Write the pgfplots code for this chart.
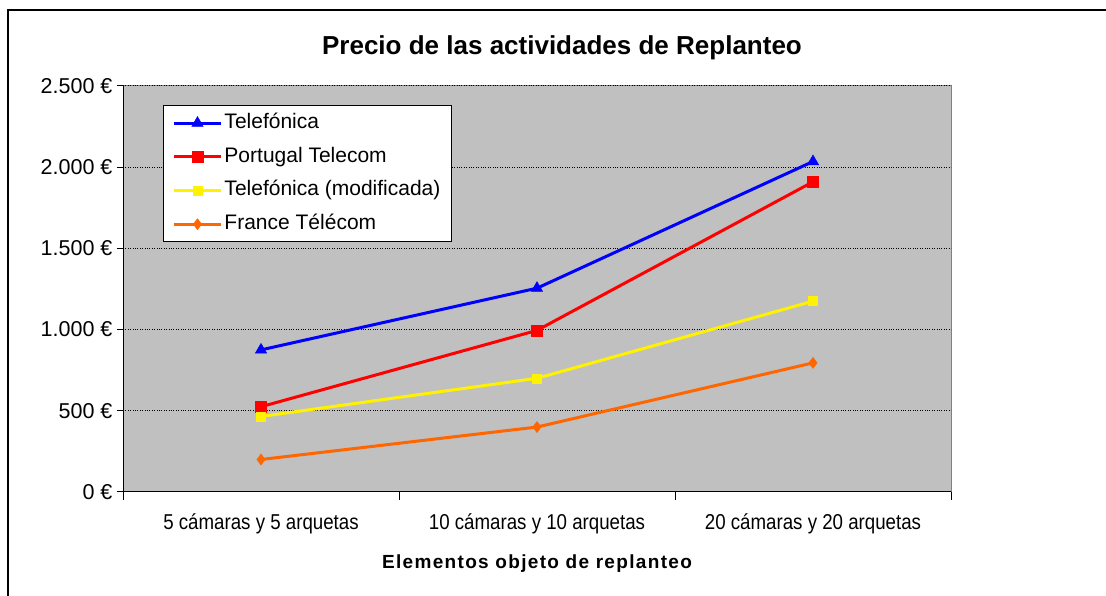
\documentclass[border=0pt]{standalone}
\usepackage{fontspec}
\setmainfont{Liberation Sans}
\newfontfamily\condfont[FakeStretch=0.87]{Liberation Sans}
\newfontfamily\spacedfont[LetterSpace=7]{Liberation Sans}
\usepackage{pgfplots}
\pgfplotsset{compat=1.18}
\definecolor{plotgray}{HTML}{C0C0C0}
\definecolor{frgray}{HTML}{808080}
\definecolor{ftorange}{HTML}{FF6600}
\begin{document}
\begin{tikzpicture}[x=1pt,y=1pt]
\useasboundingbox (0,0) rectangle (1106,596);
\fill[white] (0,0) rectangle (1106,596);
\draw[line width=2pt] (8,-10) -- (8,586) -- (1120,586);
\node[font=\fontsize{26}{30}\selectfont\bfseries] at (562,548) {Precio de las actividades de Replanteo};
\begin{axis}[
  at={(123pt,104pt)}, anchor=south west,
  width=828pt, height=406pt, scale only axis,
  xmin=-0.5, xmax=2.5, ymin=0, ymax=2500,
  axis x line*=bottom, axis y line*=left,
  axis line style={black, line width=1pt, -},
  axis background/.style={fill=plotgray, draw=frgray, line width=1pt},
  xtick={0,1,2},
  xticklabels={5 cámaras y 5 arquetas,10 cámaras y 10 arquetas,20 cámaras y 20 arquetas},
  xticklabel style={font=\condfont\fontsize{21.5}{25}\selectfont, yshift=-12pt},
  minor xtick={-0.5,0.5,1.5,2.5},
  major x tick style={draw=none},
  minor tick length=8pt,
  ytick={0,500,1000,1500,2000,2500},
  yticklabels={0 €,500 €,1.000 €,1.500 €,2.000 €,2.500 €},
  yticklabel style={font=\fontsize{21.5}{25}\selectfont, xshift=-1pt},
  major tick length=6pt,
  tick align=outside,
  tick style={black, line width=1pt},
  ymajorgrids,
  major grid style={black, dotted, line width=1pt},
  xlabel={Elementos objeto de replanteo},
  xlabel style={font=\spacedfont\fontsize{19}{23}\selectfont\bfseries, yshift=-14pt},
  every axis plot/.append style={line width=3pt},
  legend cell align=left,
  legend style={at={(0.0483,0.953)}, anchor=north west, draw=black, line width=1pt, fill=white,
    font=\fontsize{21}{25}\selectfont, row sep=10.7pt, inner xsep=9pt, inner ysep=6pt,
    nodes={inner sep=2pt, text height=15pt, text depth=4pt},
    /tikz/every even column/.append style={column sep=5pt}},
  legend image code/.code={
    \draw[#1] (0pt,0pt) -- (47pt,0pt);
    \draw[#1, mark repeat=2, mark phase=2] plot coordinates {(0pt,0pt) (23.5pt,0pt) (47pt,0pt)};
  },
]
\addplot[blue, mark=triangle*, mark size=6.5pt, mark options={solid, line width=0.5pt}]
  coordinates {(0,875) (1,1255) (2,2035)};
\addlegendentry{Telefónica}
\addplot[red, mark=square*, mark size=5.5pt, mark options={solid, line width=0.5pt}]
  coordinates {(0,525) (1,995) (2,1910)};
\addlegendentry{Portugal Telecom}
\addplot[yellow, mark=square*, mark size=4.5pt, mark options={solid, line width=0.5pt}]
  coordinates {(0,465) (1,700) (2,1175)};
\addlegendentry{Telefónica (modificada)}
\addplot[ftorange, mark=diamond*, mark size=5.5pt, mark options={solid, line width=0.5pt}]
  coordinates {(0,200) (1,400) (2,795)};
\addlegendentry{France Télécom}
\end{axis}
\end{tikzpicture}
\end{document}
